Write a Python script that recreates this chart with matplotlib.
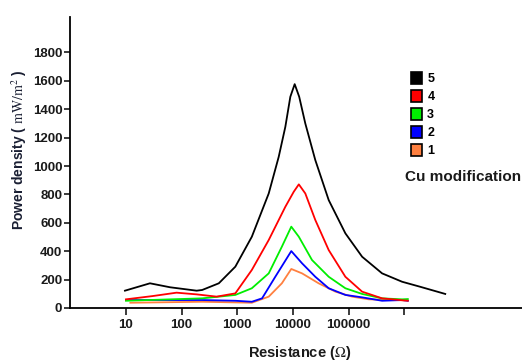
import matplotlib as mpl
mpl.use('Agg')
import matplotlib.pyplot as plt
from matplotlib.patches import Patch

plt.rcParams['font.family'] = ['Liberation Sans', 'DejaVu Sans']
plt.rcParams['mathtext.fontset'] = 'stix'

# Cu modification level 5 .. 1 : resistance (ohm) vs power density (mW/m2)
r5 = [9.6, 27, 62, 186, 234, 465, 920, 1820, 3660, 5530, 7270, 8940, 10700, 12900,
      16600, 25100, 43700, 87000, 174000, 397000, 907000, 1.9e6, 5.4e6]
p5 = [122, 174, 146, 122, 127, 174, 291, 502, 807, 1065, 1276, 1488, 1577, 1488,
      1300, 1042, 760, 526, 361, 244, 185, 150, 99]

r4 = [10, 30, 81, 186, 425, 920, 1820, 3660, 7270, 10300, 12700, 16600, 25100,
      43700, 87000, 174000, 397000, 1.15e6]
p4 = [61, 84, 108, 96, 80, 103, 268, 479, 713, 819, 871, 807, 620,
      408, 220, 115, 68, 51]

r3 = [10, 234, 920, 1820, 3660, 6300, 9300, 12700, 21900, 43700, 87000, 174000,
      397000, 907000, 1.15e6]
p3 = [51, 68, 92, 139, 244, 432, 573, 502, 338, 220, 139, 99,
      68, 61, 63]

r2 = [10, 234, 920, 1820, 2780, 4800, 9300, 14500, 25100, 43700, 87000, 174000,
      397000, 907000, 1.15e6]
p2 = [56, 56, 51, 44, 68, 220, 401, 315, 220, 139, 92, 75,
      51, 56, 51]

r1 = [12, 234, 1820, 3660, 6300, 9300, 14500, 28800, 57800, 115000, 229000, 690000, 1.0e6]
p1 = [37, 44, 37, 80, 174, 275, 244, 174, 115, 80, 61, 56, 54]

labels = ['5', '4', '3', '2', '1']
colors = ['black', '#ff0000', '#00ee00', '#0000ff', '#ff8040']

xticks = [10, 100, 1000, 10000, 100000, 1000000]
xticklabels = ['10', '100', '1000', '10000', '100000', '']
yticks = list(range(0, 2000, 200))

fig = plt.figure(figsize=(5.22, 3.62), dpi=100)
ax = fig.add_axes([70 / 522, 54 / 362, 452 / 522, 291 / 362])

series = [(r1, p1), (r2, p2), (r3, p3), (r4, p4), (r5, p5)]
for (r, p), c in zip(series, colors[::-1]):
    ax.plot(r, p, color=c, lw=1.3, solid_joinstyle='round')

ax.set_xscale('log')
ax.set_xlim(0.99, 1.29e8)
ax.set_ylim(0, 2050)
ax.set_xticks(xticks)
ax.set_xticklabels(xticklabels)
ax.minorticks_off()
ax.set_yticks(yticks)

for s in ['top', 'right']:
    ax.spines[s].set_visible(False)
for s in ['left', 'bottom']:
    ax.spines[s].set_linewidth(1.3)
ax.tick_params(direction='out', width=1.2, labelsize=9.5, colors='#1a1a1a')
ax.tick_params(axis='x', length=5, pad=3)
ax.tick_params(axis='y', length=4, pad=1.5)
for lbl in ax.get_xticklabels() + ax.get_yticklabels():
    lbl.set_fontweight('bold')

ax.set_ylabel('Power density ( $\\mathrm{mW/m^2}$ )', fontsize=10, fontweight='bold',
              color='#1a1f33')
ax.yaxis.set_label_coords(-0.091, 0.545)
ax.set_xlabel('Resistance ($\\Omega$)', fontsize=10.5, fontweight='bold', color='#1a1a1a')
ax.xaxis.set_label_coords(0.507, -0.124)

handles = [Patch(facecolor=c, edgecolor='black', lw=1.2) for c in colors]
fig.legend(handles, labels, loc='upper left', bbox_to_anchor=(411 / 522, 290 / 362),
           bbox_transform=fig.transFigure, frameon=False, borderpad=0, borderaxespad=0,
           handlelength=0.9, handleheight=1.1, handletextpad=0.4, labelspacing=0.38,
           prop={'size': 9, 'weight': 'bold'})
fig.text(405 / 522, 185 / 362, 'Cu modification', fontsize=11, fontweight='bold',
         va='center', ha='left', color='#1a1a1a')

fig.savefig('out.png', dpi=100)
